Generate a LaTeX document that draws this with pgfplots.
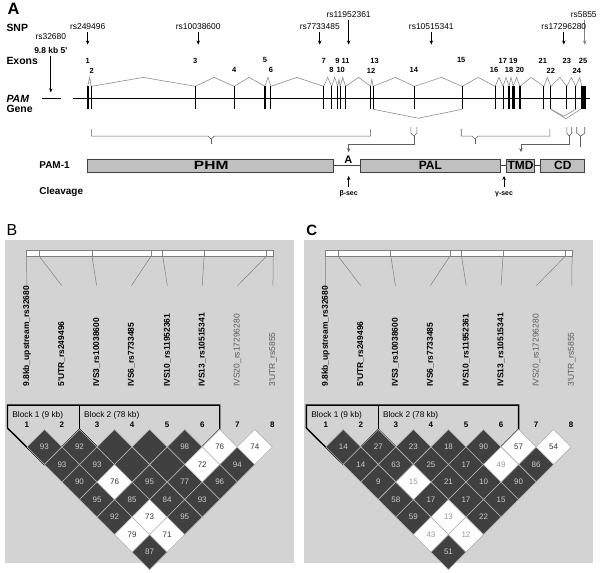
\documentclass[border=0pt]{standalone}
\usepackage{pgfplots}
\pgfplotsset{compat=1.18}
\usepackage{pgfplotstable}
\usepackage{fontspec}
\setmainfont{Liberation Sans}
\usetikzlibrary{arrows.meta}

\definecolor{ldbg}{HTML}{D3D3D3}
\definecolor{lddark}{HTML}{404040}
\definecolor{ldline}{HTML}{B4B4B4}
\definecolor{splice}{HTML}{8C8C8C}
\definecolor{boxfill}{HTML}{C0C0C0}
\definecolor{brk}{HTML}{606060}

\newcommand{\fs}[1]{\fontsize{#1}{#1}\selectfont}

\pgfplotsset{
  pixelaxis/.style={x=1pt, y=1pt, y dir=reverse, ymin=0, ymax=573,
    hide axis, clip=false, anchor=south west},
  ldcell/.style={only marks, mark=square*, mark size=12.45pt,
    mark options={rotate=45, draw=ldline, line width=0.6pt, fill=#1}},
  ldtext/.style={nodes near coords, point meta=explicit symbolic,
    nodes near coords align=center,
    every node near coord/.append style={font=\fs{8}, text=#1}},
  arr/.style={-{Stealth[length=4pt,width=3.5pt]}},
}

% exon positions (px along the gene), y = middle of the exon bar
\pgfplotstableread{
x y
91.5 96.5
196 96.5
235 96.5
266 96.5
272 96.5
325 96.5
333 96.5
339 96.5
341.5 96.5
347 96.5
372 96.5
374.5 96.5
416 96.5
464 96.5
497 96.5
505 96.5
511 96.5
522 96.5
546 96.5
553 96.5
569 96.5
578 96.5
}\exons

% LD panel: divider ticks on the top bar
\pgfplotstableread{
x y
39.3 252.3
92.3 252.3
151.7 252.3
163.3 252.3
205 252.3
267.7 252.3
}\lddiv

% LD panel: connectors from bar to marker labels
\pgfplotstableread{
x y
26.7 255.3
27 288
nan nan
39.3 255.3
62 285
nan nan
92.3 255.3
97 285
nan nan
151.7 255.3
132 285
nan nan
163.3 255.3
168 285
nan nan
205 255.3
203 285
nan nan
267.7 255.3
238.5 285
nan nan
274.3 255.3
274 285
}\ldconn

% panel B: D' values
\pgfplotstableread{
i j v
1 2 93
2 3 92
5 6 98
1 3 93
2 4 93
6 8 94
1 4 90
3 6 95
4 7 77
5 8 96
1 5 95
2 6 85
3 7 84
4 8 93
1 6 92
3 8 95
1 8 87
}\Bdark
\pgfplotstableread{
i j
3 4
4 5
3 5
4 6
}\Bblank
\pgfplotstableread{
i j v
6 7 76
7 8 74
5 7 72
2 5 76
2 7 73
1 7 79
2 8 71
}\Bwhite

% panel C: r^2 values
\pgfplotstableread{
i j v
1 2 14
2 3 27
3 4 23
4 5 18
5 6 90
1 3 14
2 4 63
3 5 25
4 6 17
6 8 86
1 4 9
3 6 21
4 7 10
5 8 90
1 5 58
2 6 17
3 7 17
4 8 15
1 6 59
3 8 22
1 8 51
}\Cdark
\pgfplotstableread{
i j v
6 7 57
7 8 54
}\Cwhite
\pgfplotstableread{
i j v
5 7 49
2 5 15
2 7 13
1 7 43
2 8 12
}\Cwhitegray

\newcommand{\ldback}{%
  \addplot[fill=ldbg, draw=none] coordinates {(5,239) (295,239) (295,563) (5,563)} --cycle;
  \addplot[fill=white, draw=gray, line width=0.6pt] coordinates {(26.7,249.3) (274.3,249.3) (274.3,255.3) (26.7,255.3)} --cycle;
  \addplot[only marks, mark=|, mark size=3pt, mark options={gray, line width=0.6pt}] table {\lddiv};
  \addplot[gray, line width=0.5pt, unbounded coords=jump] table {\ldconn};
  \node[rotate=90, anchor=west, font=\fs{8.5}\bfseries] at (axis cs:27,390) {9.8kb\_upstream\_rs32680};
  \node[rotate=90, anchor=west, font=\fs{8.5}\bfseries] at (axis cs:62,390) {5\textquotesingle UTR\_rs249496};
  \node[rotate=90, anchor=west, font=\fs{8.5}\bfseries] at (axis cs:97,390) {IVS3\_rs10038600};
  \node[rotate=90, anchor=west, font=\fs{8.5}\bfseries] at (axis cs:132,390) {IVS6\_rs7733485};
  \node[rotate=90, anchor=west, font=\fs{8.5}\bfseries] at (axis cs:168,390) {IVS10\_rs11952361};
  \node[rotate=90, anchor=west, font=\fs{8.5}\bfseries] at (axis cs:203,390) {IVS13\_rs10515341};
  \node[rotate=90, anchor=west, font=\fs{8.5}, text=black!65] at (axis cs:238.5,390) {IVS20\_rs17296280};
  \node[rotate=90, anchor=west, font=\fs{8.5}, text=black!65] at (axis cs:274,390) {3\textquotesingle UTR\_rs5855};
  \node[anchor=west, font=\fs{8.3}] at (axis cs:9,415) {Block 1 (9 kb)};
  \node[anchor=west, font=\fs{8.3}] at (axis cs:81,415) {Block 2 (78 kb)};
  \node[font=\fs{8}\bfseries] at (axis cs:27,425) {1};
  \node[font=\fs{8}\bfseries] at (axis cs:62.2,425) {2};
  \node[font=\fs{8}\bfseries] at (axis cs:97.4,425) {3};
  \node[font=\fs{8}\bfseries] at (axis cs:132.6,425) {4};
  \node[font=\fs{8}\bfseries] at (axis cs:167.8,425) {5};
  \node[font=\fs{8}\bfseries] at (axis cs:203,425) {6};
  \node[font=\fs{8}\bfseries] at (axis cs:238.2,425) {7};
  \node[font=\fs{8}\bfseries] at (axis cs:273.4,425) {8};
}
\newcommand{\ldblocks}{%
  \addplot[black, line width=1.4pt] coordinates {(7.5,428) (7.5,405) (220.6,405) (220.6,429.4) (150.2,499.8) (79.8,429.4) (44.6,464.6) (7.5,428)};
  \addplot[black, line width=1.4pt] coordinates {(79.8,405) (79.8,429.4)};
}

\begin{document}
\begin{tikzpicture}
% ---------------- panel A ----------------
\begin{axis}[pixelaxis, xmin=0, xmax=600, at={(0,0)}]
\addplot[draw=none] coordinates {(0,0) (600,573)};
% gene line
\addplot[black, line width=1pt] coordinates {(73,97) (592,97)};
\addplot[black, line width=1pt] coordinates {(42,97) (61,97)};
% splicing (upper)
\addplot[splice, line width=0.6pt] coordinates {(88,85) (90,76) (91.5,85) (144,76) (196,85) (215,76) (235,85) (250,76) (266,85) (269,76) (272,85) (298,76) (325,85) (329,76) (333,85) (336,76) (339,85) (340.3,78) (341.5,85) (344,76) (347,85) (360,76) (372,85) (373.3,78) (374.5,85) (397,76) (416,85) (443,76) (464,85) (480,76) (497,85) (501,76) (505,85) (508,76) (511,85) (513,76) (515.3,85) (518.5,76) (522,85) (533,76) (546,85) (549.5,76) (553,85) (562,76) (569,85) (573.5,76) (578,85) (582,76) (584,85)};
% splicing (lower, alternative)
\addplot[splice, line width=0.6pt] coordinates {(374.5,108) (420,117) (464,108)};
\addplot[splice, line width=0.6pt] coordinates {(553,108) (568,117.5) (583,108)};
\addplot[splice, line width=0.6pt] coordinates {(553,108) (566,115) (578,108)};
% exons
\addplot[only marks, mark=|, mark size=11.5pt, mark options={black, line width=1.1pt}] table {\exons};
\addplot[only marks, mark=|, mark size=11.5pt, mark options={black, line width=1.7pt}] coordinates {(88,96.5)};
\addplot[only marks, mark=|, mark size=11.5pt, mark options={black, line width=2.6pt}] coordinates {(515.3,96.5)};
\addplot[only marks, mark=|, mark size=11.5pt, mark options={black, line width=5.2pt}] coordinates {(585.8,96.5)};
% SNP arrows
\addplot[arr, black, line width=0.7pt] coordinates {(51,55) (51,91)};
\addplot[arr, black, line width=0.7pt] coordinates {(88,30) (88,43)};
\addplot[arr, black, line width=0.7pt] coordinates {(199,30) (199,43)};
\addplot[arr, black, line width=0.7pt] coordinates {(321,30) (321,43)};
\addplot[arr, black, line width=0.7pt] coordinates {(350,18) (350,43)};
\addplot[arr, black, line width=0.7pt] coordinates {(433,30) (433,43)};
\addplot[arr, black, line width=0.7pt] coordinates {(566,30) (566,43)};
\addplot[arr, gray, line width=0.7pt] coordinates {(587,18) (587,43)};
% brackets
\addplot[brk, line width=0.6pt] coordinates {(92,128) (92,135) (209,135) (212,138) (215,135) (372,135) (372,128)};
\addplot[brk, line width=0.6pt] coordinates {(212,138) (212,143)};
\addplot[brk, line width=0.6pt] coordinates {(412.5,126) (412.5,132) (415.5,135) (418.5,132) (418.5,126)};
\addplot[brk, line width=0.6pt, arr] coordinates {(415.5,135) (415.5,143) (350,143) (350,151)};
\addplot[brk, line width=0.6pt] coordinates {(463,128) (463,135) (474,135) (477,138) (480,135) (552,135) (552,128)};
\addplot[brk, line width=0.6pt] coordinates {(477,138) (477,143)};
\addplot[brk, line width=0.6pt] coordinates {(569,126) (569,132) (571.5,135) (574,132) (574,126)};
\addplot[brk, line width=0.6pt, arr] coordinates {(571.5,135) (571.5,143) (523,143) (523,151)};
\addplot[brk, line width=0.6pt] coordinates {(579,126) (579,132) (583,135) (587,132) (587,126)};
\addplot[brk, line width=0.6pt] coordinates {(583,135) (583,146)};
% PAM-1 protein
\addplot[black!75, line width=1pt] coordinates {(335,164.5) (362,164.5)};
\addplot[black!75, line width=1pt] coordinates {(502,164.5) (508,164.5)};
\addplot[black!75, line width=1pt] coordinates {(537,164.5) (543,164.5)};
\addplot[fill=boxfill, draw=black!75, line width=1pt] coordinates {(88,158) (335,158) (335,171) (88,171)} --cycle;
\addplot[fill=boxfill, draw=black!75, line width=1pt] coordinates {(362,158) (502,158) (502,171) (362,171)} --cycle;
\addplot[fill=boxfill, draw=black!75, line width=1pt] coordinates {(508,158) (537,158) (537,171) (508,171)} --cycle;
\addplot[fill=boxfill, draw=black!75, line width=1pt] coordinates {(543,158) (587,158) (587,171) (543,171)} --cycle;
% cleavage arrows
\addplot[arr, black, line width=0.7pt] coordinates {(350,186) (350,175)};
\addplot[arr, black, line width=0.7pt] coordinates {(506,186) (506,175)};
% texts
\node[anchor=base west, font=\fs{16.5}\bfseries] at (axis cs:4,13) {A};
\node[anchor=base west, font=\fs{10.5}\bfseries] at (axis cs:3,30) {SNP};
\node[anchor=base west, font=\fs{10.5}\bfseries] at (axis cs:3,63.5) {Exons};
\node[anchor=base west, font=\fs{10.5}\bfseries\itshape] at (axis cs:3,101.5) {PAM};
\node[anchor=base west, font=\fs{10.5}\bfseries] at (axis cs:3,111.5) {Gene};
\node[anchor=base west, font=\fs{10}\bfseries] at (axis cs:36,167.5) {PAM-1};
\node[anchor=base west, font=\fs{10}\bfseries] at (axis cs:36,194) {Cleavage};
\node[font=\fs{8.5}] at (axis cs:51,35) {rs32680};
\node[font=\fs{8.5}\bfseries] at (axis cs:51,49) {9.8 kb 5\textquotesingle};
\node[font=\fs{8.5}] at (axis cs:88,25.5) {rs249496};
\node[font=\fs{8.5}] at (axis cs:199,25.5) {rs10038600};
\node[font=\fs{8.5}] at (axis cs:321,25.5) {rs7733485};
\node[font=\fs{8.5}] at (axis cs:350,13) {rs11952361};
\node[font=\fs{8.5}] at (axis cs:433,25.5) {rs10515341};
\node[font=\fs{8.5}] at (axis cs:566,25.5) {rs17296280};
\node[font=\fs{8.5}] at (axis cs:586,13) {rs5855};
% exon numbers
\foreach \ex/\nm in {88/1,196/3,266/5,325/7,338.7/9,347/11,376/13,463/15,504.7/17,515.3/19,545/21,569/23,585.3/25}{
  \edef\tmp{\noexpand\node[font=\noexpand\fs{7.5}\noexpand\bfseries] at (axis cs:\ex,59) {\nm};}\tmp
}
\foreach \ex/\nm in {92/2,235/4,272/6,332.7/8,342/10,372.5/12,415.5/14,496/16,511/18,522/20,553/22,579/24}{
  \edef\tmp{\noexpand\node[font=\noexpand\fs{7.5}\noexpand\bfseries] at (axis cs:\ex,69) {\nm};}\tmp
}
\node[font=\fs{12}\bfseries, xscale=1.3] at (axis cs:212,164.5) {PHM};
\node[font=\fs{12}\bfseries] at (axis cs:432,164.5) {PAL};
\node[font=\fs{12}\bfseries] at (axis cs:522.5,164.5) {TMD};
\node[font=\fs{12}\bfseries] at (axis cs:565,164.5) {CD};
\node[font=\fs{11}\bfseries] at (axis cs:349.7,158.5) {A};
\node[font=\fs{7}\bfseries] at (axis cs:350,193) {β-sec};
\node[font=\fs{7}\bfseries] at (axis cs:506,193) {γ-sec};
\end{axis}

% ---------------- panel B ----------------
\begin{axis}[pixelaxis, xmin=0, xmax=300, at={(0,0)}]
\ldback
\addplot[ldcell=lddark, ldtext=black!20] table[x expr={27+(\thisrow{i}+\thisrow{j}-2)*17.6}, y expr={447+(\thisrow{j}-\thisrow{i}-1)*17.6}, meta=v] {\Bdark};
\addplot[ldcell=lddark] table[x expr={27+(\thisrow{i}+\thisrow{j}-2)*17.6}, y expr={447+(\thisrow{j}-\thisrow{i}-1)*17.6}] {\Bblank};
\addplot[ldcell=white, ldtext=black!80] table[x expr={27+(\thisrow{i}+\thisrow{j}-2)*17.6}, y expr={447+(\thisrow{j}-\thisrow{i}-1)*17.6}, meta=v] {\Bwhite};
\ldblocks
\node[anchor=base west, font=\fs{16}] at (axis cs:3,235) {B};
\end{axis}

% ---------------- panel C ----------------
\begin{axis}[pixelaxis, xmin=0, xmax=300, at={(300pt,0)}]
\ldback
\addplot[ldcell=lddark, ldtext=black!20] table[x expr={27+(\thisrow{i}+\thisrow{j}-2)*17.6}, y expr={447+(\thisrow{j}-\thisrow{i}-1)*17.6}, meta=v] {\Cdark};
\addplot[ldcell=white, ldtext=black!80] table[x expr={27+(\thisrow{i}+\thisrow{j}-2)*17.6}, y expr={447+(\thisrow{j}-\thisrow{i}-1)*17.6}, meta=v] {\Cwhite};
\addplot[ldcell=white, ldtext=black!40] table[x expr={27+(\thisrow{i}+\thisrow{j}-2)*17.6}, y expr={447+(\thisrow{j}-\thisrow{i}-1)*17.6}, meta=v] {\Cwhitegray};
\ldblocks
\node[anchor=base west, font=\fs{15}\bfseries] at (axis cs:4,235) {C};
\end{axis}
\end{tikzpicture}
\end{document}
